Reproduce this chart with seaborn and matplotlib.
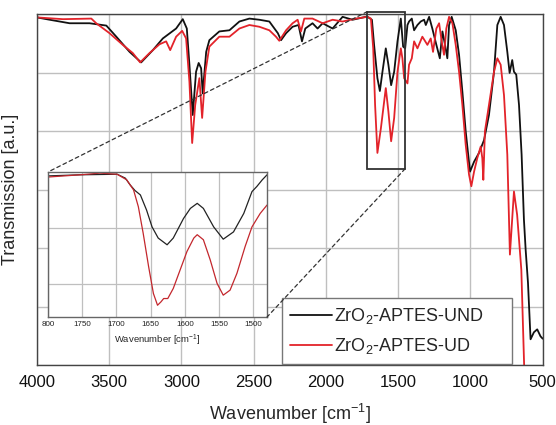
import matplotlib
matplotlib.use("Agg")
import matplotlib.pyplot as plt
import pandas as pd
import seaborn as sns
from matplotlib.patches import Rectangle, ConnectionPatch

# ---------------- data ----------------
und_wn = [4000, 3912, 3774, 3636, 3520, 3451, 3359, 3279, 3198, 3129, 3037, 2991, 2963,
          2945, 2922, 2899, 2881, 2864, 2853, 2829, 2807, 2738, 2668, 2599, 2530, 2461,
          2392, 2333, 2311, 2276, 2231, 2190, 2166, 2143, 2093, 2058, 2023, 1954, 1885,
          1816, 1724, 1713, 1682, 1667, 1644, 1627, 1609, 1586, 1568, 1549, 1528, 1505,
          1482, 1466, 1452, 1436, 1425, 1406, 1390, 1367, 1344, 1321, 1309, 1286, 1264,
          1236, 1212, 1194, 1176, 1160, 1148, 1130, 1102, 1079, 1056, 1033, 1003, 975,
          941, 906, 872, 837, 814, 791, 768, 745, 729, 711, 699, 683, 664, 646, 630,
          618, 602, 584, 561, 538, 515, 500]
und_t = [5.95, 5.91, 5.85, 5.85, 5.81, 5.62, 5.36, 5.18, 5.39, 5.59, 5.76, 5.92, 5.76,
         5.14, 4.28, 5.02, 5.17, 5.08, 4.65, 5.36, 5.56, 5.71, 5.73, 5.88, 5.93, 5.91,
         5.88, 5.68, 5.56, 5.68, 5.79, 5.82, 5.54, 5.76, 5.85, 5.76, 5.85, 5.76, 5.96,
         5.91, 5.96, 5.96, 5.91, 5.48, 4.91, 4.69, 5.02, 5.42, 5.14, 4.79, 5.02, 5.54,
         5.93, 5.45, 5.42, 5.82, 5.88, 5.93, 5.73, 5.82, 5.88, 5.91, 5.82, 5.96, 5.76,
         5.48, 5.25, 5.71, 5.48, 5.25, 5.82, 5.96, 5.73, 5.31, 4.68, 4.00, 3.31, 3.48,
         3.63, 3.85, 4.28, 5.02, 5.82, 5.96, 5.82, 5.36, 5.00, 5.22, 5.02, 4.97, 4.45,
         3.60, 2.49, 1.97, 1.41, 0.44, 0.56, 0.61, 0.49, 0.45]

ud_wn = [4000, 3820, 3624, 3590, 3498, 3406, 3337, 3286, 3221, 3152, 3106, 3078, 3037,
         2995, 2968, 2945, 2926, 2905, 2876, 2857, 2834, 2807, 2738, 2668, 2599, 2530,
         2461, 2392, 2346, 2323, 2276, 2231, 2196, 2173, 2150, 2093, 2023, 1954, 1885,
         1793, 1713, 1689, 1673, 1660, 1644, 1620, 1586, 1568, 1549, 1528, 1505, 1482,
         1471, 1459, 1436, 1425, 1406, 1390, 1367, 1333, 1298, 1275, 1259, 1236, 1217,
         1199, 1183, 1167, 1148, 1125, 1102, 1079, 1056, 1033, 1010, 994, 975, 953, 929,
         918, 911, 900, 872, 837, 814, 791, 768, 745, 727, 699, 677, 648, 628, 620]
ud_t = [5.95, 5.92, 5.93, 5.85, 5.68, 5.48, 5.34, 5.18, 5.34, 5.49, 5.54, 5.39, 5.62,
        5.72, 5.59, 4.85, 3.80, 4.45, 4.91, 4.23, 5.02, 5.45, 5.62, 5.62, 5.76, 5.82,
        5.79, 5.73, 5.62, 5.55, 5.73, 5.85, 5.91, 5.71, 5.93, 5.93, 5.85, 5.91, 5.88,
        5.93, 5.96, 5.93, 5.42, 4.45, 3.63, 4.05, 4.74, 4.34, 3.83, 4.23, 5.02, 5.42,
        5.25, 4.91, 4.82, 5.14, 5.25, 5.54, 5.42, 5.62, 5.48, 5.59, 5.36, 5.76, 5.85,
        5.54, 5.31, 5.76, 5.96, 5.85, 5.48, 5.02, 4.45, 3.77, 3.26, 3.06, 3.31, 3.54, 3.74,
        3.54, 3.17, 4.00, 4.45, 5.02, 5.25, 5.14, 4.62, 3.60, 1.89, 2.97, 2.57, 1.63, -0.05, -0.3]

ins_und_wn = [1800, 1753, 1699, 1687, 1680, 1673, 1665, 1656, 1648, 1639, 1626, 1617,
              1602, 1592, 1582, 1573, 1558, 1544, 1529, 1514, 1502, 1495, 1487, 1480]
ins_und_t = [1.93, 1.95, 1.96, 1.89, 1.77, 1.67, 1.59, 1.32, 1.02, 0.82, 0.70, 0.82,
             1.17, 1.35, 1.44, 1.35, 1.02, 0.80, 0.93, 1.26, 1.65, 1.74, 1.86, 1.95]
ins_ud_wn = [1800, 1753, 1724, 1699, 1685, 1675, 1668, 1661, 1653, 1646, 1640, 1635,
             1631, 1625, 1617, 1607, 1597, 1587, 1582, 1573, 1563, 1553, 1544, 1534,
             1524, 1512, 1502, 1490, 1480]
ins_ud_t = [1.91, 1.95, 1.98, 1.96, 1.86, 1.68, 1.38, 0.91, 0.31, -0.17, -0.38, -0.32,
            -0.26, -0.26, -0.08, 0.25, 0.58, 0.82, 0.88, 0.79, 0.43, 0.01, -0.20, -0.11,
            0.19, 0.67, 1.02, 1.26, 1.41]

series_labels = ["ZrO$_2$-APTES-UND", "ZrO$_2$-APTES-UD"]
main_xticks = [4000, 3500, 3000, 2500, 2000, 1500, 1000, 500]
inset_xticks = [1800, 1750, 1700, 1650, 1600, 1550, 1500]
inset_xticklabels = ["800", "1750", "1700", "1650", "1600", "1550", "1500"]
zoom_box = (1452, 1713, 3.36, 6.05)  # wn_min, wn_max, T_min, T_max

# ---------------- style ----------------
sns.set_style("whitegrid")
plt.rcParams["font.family"] = ["Liberation Sans", "DejaVu Sans"]
plt.rcParams["mathtext.default"] = "regular"

BLACK = "#111111"
RED = "#e3232a"
GRID = "#bfbfbf"
SPINE = "#444444"

fig = plt.figure(figsize=(5.56, 4.25), dpi=100)
ax = fig.add_axes([0.0665, 0.1412, 0.9096, 0.8247])

df_und = pd.DataFrame({"wn": und_wn, "T": und_t})
df_ud = pd.DataFrame({"wn": ud_wn, "T": ud_t})
sns.lineplot(data=df_und, x="wn", y="T", color=BLACK, lw=1.3, ax=ax,
             estimator=None, sort=False, label=series_labels[0])
sns.lineplot(data=df_ud, x="wn", y="T", color=RED, lw=1.3, ax=ax,
             estimator=None, sort=False, label=series_labels[1])

ax.set_xlim(4000, 500)
ax.set_ylim(0, 6)
ax.set_xticks(main_xticks)
ax.set_xticklabels([str(t) for t in main_xticks])
ax.set_yticks(range(0, 7))
ax.set_yticklabels([])
ax.tick_params(axis="both", length=0, labelsize=12, pad=7, colors="#111111")
ax.grid(True, color=GRID, lw=1.0)
for s in ax.spines.values():
    s.set_visible(True)
    s.set_color(SPINE)
    s.set_linewidth(1.0)
ax.set_xlabel("Wavenumber [cm$^{-1}$]", fontsize=13, labelpad=9)
ax.set_ylabel("Transmission [a.u.]", fontsize=13, labelpad=6)

# zoom rectangle
rect = Rectangle((zoom_box[0], zoom_box[2]), zoom_box[1] - zoom_box[0],
                 zoom_box[3] - zoom_box[2], fill=False, ec="#333333", lw=1.3,
                 clip_on=False, zorder=4)
ax.add_patch(rect)

leg = ax.legend(loc="lower left", bbox_to_anchor=(0.4845, 0.002, 0.4545, 0.19),
                mode="expand", fontsize=13, frameon=True, fancybox=False,
                framealpha=1, edgecolor="#777777", handlelength=2.3,
                handletextpad=0.15, labelspacing=0.55, borderpad=0.45,
                borderaxespad=0)
leg.get_frame().set_linewidth(1.0)
leg.set_zorder(6)
for h in leg.get_lines():
    h.set_linewidth(1.3)

# ---------------- inset ----------------
axi = fig.add_axes([0.0863, 0.2541, 0.394, 0.3412])
axi.set_facecolor("white")
dfi_und = pd.DataFrame({"wn": ins_und_wn, "T": ins_und_t})
dfi_ud = pd.DataFrame({"wn": ins_ud_wn, "T": ins_ud_t})
sns.lineplot(data=dfi_und, x="wn", y="T", color="#222222", lw=0.9, ax=axi,
             estimator=None, sort=False, legend=False)
sns.lineplot(data=dfi_ud, x="wn", y="T", color="#c3272d", lw=0.9, ax=axi,
             estimator=None, sort=False, legend=False)
axi.set_xlim(1800, 1480)
axi.set_ylim(-0.59, 2.0)
axi.set_xticks(inset_xticks)
axi.set_xticklabels(inset_xticklabels)
axi.set_yticks([0, 1])
axi.set_yticklabels([])
axi.tick_params(axis="both", length=0, labelsize=5.8, pad=3, colors="#222222")
axi.grid(True, color=GRID, lw=0.9)
for s in axi.spines.values():
    s.set_visible(True)
    s.set_color("#666666")
    s.set_linewidth(1.0)
axi.set_xlabel("Wavenumber [cm$^{-1}$]", fontsize=6.8, labelpad=3)
axi.set_ylabel("")

# dashed connectors (drawn on the figure, not clipped)
for xyA, xyB in [((zoom_box[1], zoom_box[3]), (0, 1)),
                 ((zoom_box[0], zoom_box[2]), (1, 0))]:
    con = ConnectionPatch(xyA=xyA, coordsA="data", axesA=ax,
                          xyB=xyB, coordsB="axes fraction", axesB=axi,
                          color="#333333", lw=0.9, ls=(0, (3, 2.5)),
                          shrinkA=0, shrinkB=0, clip_on=False, zorder=3)
    con.set_annotation_clip(False)
    fig.add_artist(con)

fig.savefig("out.png", dpi=100)
